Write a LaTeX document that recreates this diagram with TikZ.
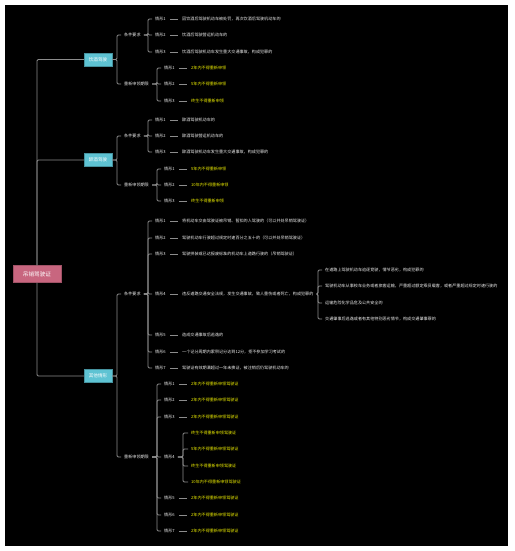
\documentclass[tikz,border=0pt]{standalone}
\usepackage{fontspec}
\setmainfont{Noto Sans CJK SC}
\newcommand{\leaffont}{\fontsize{4.1}{5}\selectfont}
\definecolor{linegray}{HTML}{8C8C8C}
\definecolor{rootpink}{HTML}{C8667F}
\definecolor{topicteal}{HTML}{5EC3D3}
\definecolor{hiyellow}{HTML}{F0F000}
\definecolor{itemwhite}{HTML}{EDEDED}

\begin{document}
\begin{tikzpicture}[x=1pt,y=-1pt,
    link/.style={draw=linegray, line width=0.8pt, rounded corners=1.2pt},
    dashlink/.style={link, shorten <=1.5pt, shorten >=1pt},
    rootbox/.style={draw=rootpink!80!black, fill=rootpink, text=white, font=\fontsize{5.6}{6.5}\selectfont, minimum width=48pt, minimum height=17pt, inner sep=0pt},
    topicbox/.style={draw=topicteal!75!black, fill=topicteal, text=white, font=\fontsize{4.6}{5.5}\selectfont, minimum width=28pt, minimum height=13pt, inner sep=0pt},
    subitem/.style={anchor=west, inner xsep=3pt, inner ysep=1pt, text=itemwhite, font=\leaffont},
    caseitem/.style={subitem},
    itemtext/.style={subitem},
    itemterm/.style={subitem, text=hiyellow}]

        % Frame
        \useasboundingbox (0,0) rectangle (514,551);
        \fill[white] (0,0) rectangle (514,551);
        \fill[black] (5,5) rectangle (508,546);
        \coordinate (topicx) at (117,0);
        \coordinate (condx) at (148,0);
        \coordinate (termx) at (157,0);
        \coordinate (extrax) at (318,0);
        \coordinate (termsubx) at (183,0);

        % Root and topics
        \node[topicbox] (drink) at (98,59.5) {饮酒驾驶};
        \node[topicbox] (drunk) at (98,160) {醉酒驾驶};
        \node[topicbox] (other) at (98,376) {其他情形};
        \node[rootbox] (license) at (37,274) {吊销驾驶证};
        \draw[link] (license.north) |- (drink.west);
        \draw[link] (license.north) |- (drunk.west);
        \draw[link] (license.south) |- (other.west);

        % Conditions and terms
        \foreach \br/\yc/\yt in {drink/35/84, drunk/136/185, other/294/457} {
          \node[subitem] (\br-cond) at (121,\yc) {条件要求};
          \node[subitem] (\br-term) at (121,\yt) {重新申领期限};
          \draw[link] (\br.east) -- (\br.east -| topicx) |- (\br-cond.west);
          \draw[link] (\br.east) -- (\br.east -| topicx) |- (\br-term.west);
        }

        % Drinking
        \foreach \y/\txt [count=\i] in {19/{因饮酒后驾驶机动车被处罚，再次饮酒后驾驶机动车的}, 35/{饮酒后驾驶营运机动车的}, 52/{饮酒后驾驶机动车发生重大交通事故，构成犯罪的}} {
          \node[caseitem] (drinkc\i) at (152,\y) {情形\i};
          \node[itemtext] (drinkct\i) at (179,\y) {\txt};
          \draw[link] (drink-cond.east) -- (drink-cond.east -| condx) |- (drinkc\i.west);
          \draw[dashlink] (drinkc\i) -- (drinkct\i);
        }
        \foreach \y/\txt [count=\i] in {68/2年内不得重新申领, 84/5年内不得重新申领, 101/终生不得重新申领} {
          \node[caseitem] (drinkr\i) at (161,\y) {情形\i};
          \node[itemterm] (drinkrt\i) at (188,\y) {\txt};
          \draw[link] (drink-term.east) -- (drink-term.east -| termx) |- (drinkr\i.west);
          \draw[dashlink] (drinkr\i) -- (drinkrt\i);
        }

        % Drunk
        \foreach \y/\txt [count=\i] in {120/{醉酒驾驶机动车的}, 136/{醉酒驾驶营运机动车的}, 152/{醉酒驾驶机动车发生重大交通事故，构成犯罪的}} {
          \node[caseitem] (drunkc\i) at (152,\y) {情形\i};
          \node[itemtext] (drunkct\i) at (179,\y) {\txt};
          \draw[link] (drunk-cond.east) -- (drunk-cond.east -| condx) |- (drunkc\i.west);
          \draw[dashlink] (drunkc\i) -- (drunkct\i);
        }
        \foreach \y/\txt [count=\i] in {169/5年内不得重新申领, 185/10年内不得重新申领, 201/终生不得重新申领} {
          \node[caseitem] (drunkr\i) at (161,\y) {情形\i};
          \node[itemterm] (drunkrt\i) at (188,\y) {\txt};
          \draw[link] (drunk-term.east) -- (drunk-term.east -| termx) |- (drunkr\i.west);
          \draw[dashlink] (drunkr\i) -- (drunkrt\i);
        }

        % Other cases
        \foreach \y/\txt [count=\i] in {221/{将机动车交由驾驶证被吊销、暂扣的人驾驶的（可以并处吊销驾驶证）}, 238/{驾驶机动车行驶超过规定时速百分之五十的（可以并处吊销驾驶证）}, 254/{驾驶拼装或已达报废标准的机动车上道路行驶的（吊销驾驶证）}, 294/{违反道路交通安全法规，发生交通事故，致人重伤或者死亡，构成犯罪的}, 335/{造成交通事故后逃逸的}, 352/{一个记分周期内累积记分达到12分，拒不参加学习考试的}, 368/{驾驶证有效期满超过一年未换证，被注销后仍驾驶机动车的}} {
          \node[caseitem] (otherc\i) at (152,\y) {情形\i};
          \node[itemtext] (otherct\i) at (179,\y) {\txt};
          \draw[link] (other-cond.east) -- (other-cond.east -| condx) |- (otherc\i.west);
          \draw[dashlink] (otherc\i) -- (otherct\i);
        }
        \foreach \y/\txt [count=\i] in {270/{在道路上驾驶机动车追逐竞驶，情节恶劣，构成犯罪的}, 286/{驾驶机动车从事校车业务或者旅客运输，严重超过额定乘员载客，或者严重超过规定时速行驶的}, 303/{运输危险化学品危及公共安全的}, 319/{交通肇事后逃逸或者有其他特别恶劣情节，构成交通肇事罪的}} {
          \node[itemtext] (otherx\i) at (322,\y) {\txt};
          \draw[link] (otherct4.east) -- (otherct4.east -| extrax) |- (otherx\i.west);
        }
        \foreach \y in {384,400,417,457,498,515,531} {
          \pgfmathtruncatemacro{\i}{1+(\y>384)+(\y>400)+(\y>417)+(\y>457)+(\y>498)+(\y>515)}
          \node[caseitem] (otherr\i) at (161,\y) {情形\i};
          \draw[link] (other-term.east) -- (other-term.east -| termx) |- (otherr\i.west);
        }
        \foreach \i/\y in {1/384, 2/400, 3/417, 5/498, 6/515, 7/531} {
          \node[itemterm] (otherrt\i) at (188,\y) {2年内不得重新申领驾驶证};
          \draw[dashlink] (otherr\i) -- (otherrt\i);
        }
        \foreach \y/\txt [count=\i] in {433/终生不得重新申领驾驶证, 449/5年内不得重新申领驾驶证, 466/终生不得重新申领驾驶证, 482/10年内不得重新申领驾驶证} {
          \node[itemterm] (otherry\i) at (188,\y) {\txt};
          \draw[link] (otherr4.east) -- (otherr4.east -| termsubx) |- (otherry\i.west);
        }
      \end{tikzpicture}
\end{document}
